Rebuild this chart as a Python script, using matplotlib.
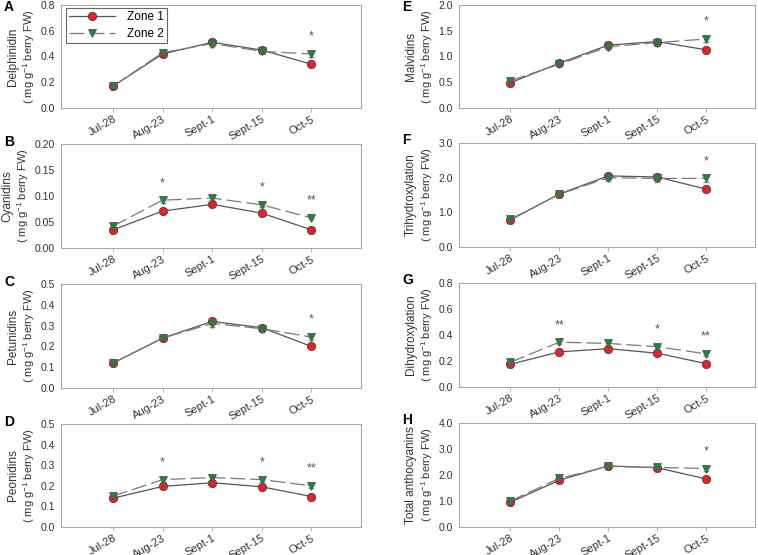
import numpy as np
import matplotlib.pyplot as plt
from matplotlib.ticker import FormatStrFormatter

dates = ["Jul-28", "Aug-23", "Sept-1", "Sept-15", "Oct-5"]

delph_z1 = [0.17, 0.42, 0.51, 0.45, 0.34]
delph_z2 = [0.17, 0.43, 0.50, 0.44, 0.42]
delph_stars = ["", "", "", "", "*"]

cyan_z1 = [0.035, 0.071, 0.084, 0.067, 0.035]
cyan_z2 = [0.042, 0.092, 0.096, 0.083, 0.058]
cyan_stars = ["", "*", "", "*", "**"]

petu_z1 = [0.12, 0.24, 0.32, 0.29, 0.20]
petu_z2 = [0.12, 0.24, 0.31, 0.285, 0.245]
petu_stars = ["", "", "", "", "*"]

peon_z1 = [0.14, 0.197, 0.215, 0.195, 0.148]
peon_z2 = [0.15, 0.23, 0.24, 0.23, 0.20]
peon_stars = ["", "*", "", "*", "**"]

malv_z1 = [0.49, 0.87, 1.22, 1.29, 1.13]
malv_z2 = [0.53, 0.85, 1.19, 1.27, 1.34]
malv_stars = ["", "", "", "", "*"]

trih_z1 = [0.78, 1.53, 2.05, 2.02, 1.67]
trih_z2 = [0.80, 1.52, 2.00, 1.98, 1.98]
trih_stars = ["", "", "", "", "*"]

dihy_z1 = [0.175, 0.27, 0.295, 0.26, 0.18]
dihy_z2 = [0.19, 0.345, 0.335, 0.31, 0.255]
dihy_stars = ["", "**", "", "*", "**"]

total_z1 = [0.95, 1.80, 2.35, 2.28, 1.85]
total_z2 = [1.00, 1.87, 2.33, 2.29, 2.25]
total_stars = ["", "", "", "", "*"]

# letter, name, zone1, zone2, stars, y max, y step, tick format
panels = [
    ("A", "Delphinidin", delph_z1, delph_z2, delph_stars, 0.8, 0.2, "%.1f"),
    ("B", "Cyanidins", cyan_z1, cyan_z2, cyan_stars, 0.2, 0.05, "%.2f"),
    ("C", "Petunidins", petu_z1, petu_z2, petu_stars, 0.5, 0.1, "%.1f"),
    ("D", "Peonidins", peon_z1, peon_z2, peon_stars, 0.5, 0.1, "%.1f"),
    ("E", "Malvidins", malv_z1, malv_z2, malv_stars, 2.0, 0.5, "%.1f"),
    ("F", "Trihydroxylation", trih_z1, trih_z2, trih_stars, 3.0, 1.0, "%.1f"),
    ("G", "Dihydroxylation", dihy_z1, dihy_z2, dihy_stars, 0.8, 0.2, "%.1f"),
    ("H", "Total anthocyanins", total_z1, total_z2, total_stars, 4.0, 1.0, "%.1f"),
]

W, H = 758, 555
plt.rcParams['font.family'] = ['Liberation Sans', 'DejaVu Sans']
plt.rcParams['mathtext.fontset'] = 'custom'
plt.rcParams['mathtext.rm'] = 'Liberation Sans'
fig = plt.figure(figsize=(W / 100, H / 100), dpi=100)

# axes boxes in pixels
left_col = (61, 361)
right_col = (459, 755)
rows_left = [(5, 108), (144, 248), (284, 388), (424, 527)]
rows_right = [(5, 108), (143, 247), (283, 387), (423, 527)]

x = np.arange(len(dates))
spine_c = "#a8a8a8"
txt_c = "#333333"

for i, (letter, name, z1, z2, stars, ymax, ystep, fmt) in enumerate(panels):
    if i < 4:
        l, r = left_col
        t, b = rows_left[i]
    else:
        l, r = right_col
        t, b = rows_right[i - 4]
    ax = fig.add_axes([l / W, 1 - b / H, (r - l) / W, (b - t) / H])

    err1 = np.array(z1) * 0.04
    err2 = np.array(z2) * 0.05
    ax.errorbar(x, z1, yerr=err1, fmt="none", ecolor="#999999",
                elinewidth=0.8, capsize=2, zorder=2)
    ax.errorbar(x, z2, yerr=err2, fmt="none", ecolor="#999999",
                elinewidth=0.8, capsize=2, zorder=2)
    ax.plot(x, z1, color="#555555", lw=0.9, ls="-", marker="o", ms=6,
            mfc="#e8202a", mec="#444444", mew=0.6, label="Zone 1", zorder=3)
    ax.plot(x, z2, color="#7a7a7a", lw=0.9, ls=(0, (12, 4)), marker="v", ms=6,
            mfc="#1a8a3a", mec="#555555", mew=0.6, label="Zone 2", zorder=3)

    for xi, yi, s in zip(x, z2, stars):
        if s:
            ax.annotate(s, (xi, yi), xytext=(0, 8), textcoords="offset points",
                        ha="center", va="bottom", fontsize=9, color="#555555")

    ax.set_xlim(-1.05, 5)
    ax.set_ylim(0, ymax)
    ax.set_yticks(np.arange(0, ymax + ystep / 2, ystep))
    ax.yaxis.set_major_formatter(FormatStrFormatter(fmt))
    ax.set_xticks(x)
    ax.set_xticklabels(dates, rotation=30, ha="right", rotation_mode="anchor")
    ax.tick_params(colors=txt_c, width=0.6)
    ax.tick_params(axis="x", length=3, pad=1.5, color=spine_c, labelsize=8)
    ax.tick_params(axis="y", length=0, pad=4.5, labelsize=7.5)
    for sp in ax.spines.values():
        sp.set_color(spine_c)
        sp.set_linewidth(0.8)

    # unit line as the y label, compound name set just outside it
    ax.set_ylabel("( mg g$^{-1}$ berry FW)", fontsize=8, color=txt_c, labelpad=2.5)
    ax.annotate(name, xy=(0, 0.5), xycoords=ax.yaxis.label,
                xytext=(-1.5, 0), textcoords="offset points", rotation=90,
                ha="right", va="center", fontsize=8.5, color=txt_c)

    lx = 4 / W if i < 4 else 402 / W
    if t < 10:
        base = 11
    else:
        base = t + 2 if i < 4 else t + 1
    fig.text(lx, 1 - base / H, letter, fontsize=10, fontweight="bold",
             va="baseline", ha="left")

    if i == 0:
        ax.legend(loc="upper left", fontsize=8.5, frameon=True, fancybox=False,
                  edgecolor="#666666", handlelength=3.9, handletextpad=1.0,
                  borderpad=0.25, labelspacing=0.4, borderaxespad=0,
                  bbox_to_anchor=(5 / 300, 1 - 3 / 103), framealpha=1)
        ax.get_legend().get_frame().set_linewidth(0.8)

fig.savefig("out.png", dpi=100)
